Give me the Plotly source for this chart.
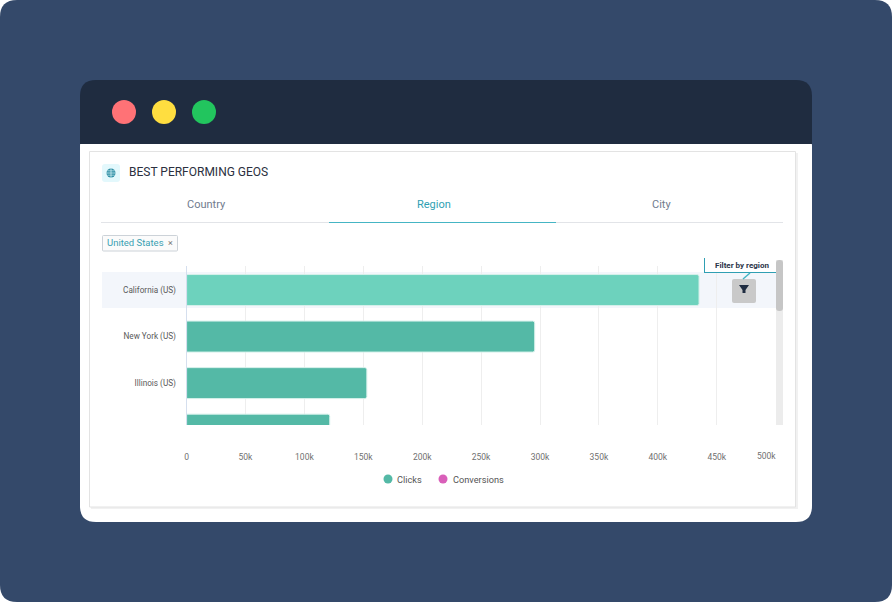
import plotly.graph_objects as go

W, H = 892, 602
regions = ["California (US)", "New York (US)", "Illinois (US)", "Texas (US)"]
clicks = [435000, 295500, 153000, 121500]
bar_colors = ["#6dd2bd", "#54b9a6", "#54b9a6", "#54b9a6"]
tick_values = [0, 50000, 100000, 150000, 200000, 250000, 300000, 350000, 400000, 450000]
tick_labels = ["0", "50k", "100k", "150k", "200k", "250k", "300k", "350k", "400k", "450k"]
tabs = ["Country", "Region", "City"]
series_names = ["Clicks", "Conversions"]
series_colors = ["#54b9a6", "#d95fb9"]

FONT = "Roboto, sans-serif"


def fx(x):
    return x / W


def fy(y):
    return 1 - y / H


def rounded(x0, y0, x1, y1, r=0, tl=True, tr=True, br=True, bl=True):
    a, b = fx(x0), fy(y0)
    c, d = fx(x1), fy(y1)
    rx, ry = r / W, r / H
    p = []
    p.append(f"M{a + (rx if tl else 0)},{b}")
    p.append(f"L{c - (rx if tr else 0)},{b}")
    if tr:
        p.append(f"Q{c},{b} {c},{b - ry}")
    p.append(f"L{c},{d + (ry if br else 0)}")
    if br:
        p.append(f"Q{c},{d} {c - rx},{d}")
    p.append(f"L{a + (rx if bl else 0)},{d}")
    if bl:
        p.append(f"Q{a},{d} {a},{d + ry}")
    p.append(f"L{a},{b - (ry if tl else 0)}")
    if tl:
        p.append(f"Q{a},{b} {a + rx},{b}")
    return " ".join(p) + " Z"


def box(x0, y0, x1, y1, fill, r=0, line=None, layer="below", **corners):
    return dict(type="path", xref="paper", yref="paper", layer=layer,
                path=rounded(x0, y0, x1, y1, r, **corners), fillcolor=fill,
                line=dict(color=line or "rgba(0,0,0,0)", width=1 if line else 0))


def seg(x0, y0, x1, y1, color, width=1, layer="below"):
    return dict(type="line", xref="paper", yref="paper", layer=layer,
                x0=fx(x0), y0=fy(y0), x1=fx(x1), y1=fy(y1),
                line=dict(color=color, width=width))


def dot(cx, cy, r, fill, line=None, layer="below", width=1):
    return dict(type="circle", xref="paper", yref="paper", layer=layer,
                x0=fx(cx - r), x1=fx(cx + r), y0=fy(cy - r), y1=fy(cy + r),
                fillcolor=fill, line=dict(color=line or "rgba(0,0,0,0)", width=width if line else 0))


def label(text, x, y, size, color, anchor="center", family=FONT):
    return dict(text=text, x=fx(x), y=fy(y), xref="paper", yref="paper", showarrow=False,
                xanchor=anchor, yanchor="middle", font=dict(family=family, size=size, color=color))


TEAL = "#2f9fb3"
shapes = [
    box(0, 0, 892, 602, "#34496a", r=17),
    box(80, 130, 812, 522, "#ffffff", r=16),
    box(80, 80, 812, 144, "#1f2c40", r=16, br=False, bl=False),
    dot(124, 112, 12, "#ff7276"),
    dot(164, 112, 12, "#ffde40"),
    dot(204, 112, 12, "#22c55e"),
    box(91, 153, 798, 509, "#f1f1f1"),
    box(89.5, 151.5, 795.5, 507, "#ffffff", line="#e3e3e3"),
    box(102, 164, 120, 182, "#e3f8fc", r=3),
    dot(111, 173, 4.5, "#2f8fa5"),
    seg(106.5, 173, 115.5, 173, "#e3f8fc", 0.7),
    seg(107.4, 170.8, 114.6, 170.8, "#e3f8fc", 0.6),
    seg(107.4, 175.2, 114.6, 175.2, "#e3f8fc", 0.6),
    seg(111, 168.5, 111, 177.5, "#e3f8fc", 0.7),
    seg(101, 222.5, 783, 222.5, "#e2e4e8", 1),
    seg(329, 222.5, 556, 222.5, "#45b5c4", 1),
    box(102.5, 235.5, 177.5, 251, "#fbfbfb", r=1, line="#ccd2d8"),
    box(102, 272, 776, 308, "#f3f6fb"),
    box(776, 260, 783, 425, "#ececec", layer="above"),
    box(776, 260, 783, 311, "#c6c6c6", r=3, layer="above"),
    box(704, 258, 776, 272.5, "#ffffff", layer="above"),
    seg(704.5, 258, 704.5, 273, TEAL, 1, layer="above"),
    seg(704, 272.5, 776, 272.5, TEAL, 1, layer="above"),
    box(732, 279, 756, 303, "#c9c9c9", r=2, layer="above"),
    seg(743, 279, 750, 273, "#45b5c4", 1.5, layer="above"),
    dict(type="path", xref="paper", yref="paper", layer="above", fillcolor="#1f2c41",
         line=dict(width=0, color="rgba(0,0,0,0)"),
         path=f"M{fx(739)},{fy(285)} L{fx(749)},{fy(285)} L{fx(745.5)},{fy(290)} "
              f"L{fx(745.5)},{fy(293)} L{fx(742.5)},{fy(293)} L{fx(742.5)},{fy(290)} Z"),
    dot(388, 479, 4.5, series_colors[0]),
    dot(443, 479, 4.5, series_colors[1]),
]

annotations = [
    label("BEST PERFORMING GEOS", 127, 172, 12, "#2b3040", anchor="left"),
    label(tabs[0], 206.5, 204, 11, "#717b8e"),
    label(tabs[1], 434, 204, 11, "#2f9fb3"),
    label(tabs[2], 661, 204, 11, "#717b8e"),
    label("United States", 105, 243, 9.5, "#3a9fb2", anchor="left"),
    label("×", 170.5, 242.5, 9, "#777777"),
    label("<b>Filter by region</b>", 742, 265, 8, "#2b3448"),
    label(series_names[0], 395, 479.5, 9.2, "#555555", anchor="left"),
    label(series_names[1], 451, 479.5, 9.2, "#555555", anchor="left"),
    dict(text="500k", x=500000, xref="x", y=fy(456), yref="paper", xshift=-9, showarrow=False,
         yanchor="middle", font=dict(family=FONT, size=8.5, color="#707070")),
]

fig = go.Figure()
fig.add_trace(go.Bar(
    y=regions, x=clicks, orientation="h", width=0.665, showlegend=False, hoverinfo="skip",
    name=series_names[0],
    marker=dict(color=bar_colors, cornerradius=2, line=dict(color="#d5f0ea", width=1)),
))

fig.update_layout(
    width=W, height=H, autosize=False, showlegend=False,
    margin=dict(l=0, r=0, t=0, b=0, pad=0, autoexpand=False),
    paper_bgcolor="#ffffff", plot_bgcolor="rgba(0,0,0,0)",
    font=dict(family=FONT),
    shapes=shapes, annotations=annotations,
    xaxis=dict(domain=[fx(186.6), fx(775.6)], range=[0, 500000], tickvals=tick_values, ticktext=tick_labels,
               automargin=False, showgrid=True, gridcolor="#eeeeee", gridwidth=1, zeroline=False,
               showline=False, ticks="", ticklabelstandoff=25,
               tickfont=dict(family=FONT, size=8.5, color="#707070")),
    yaxis=dict(domain=[fy(425), fy(266)], type="category", categoryorder="array", categoryarray=regions,
               range=[2.9, -0.516], automargin=False, showgrid=False, zeroline=False, showline=True,
               linecolor="#d5dfee", linewidth=1, ticks="", ticklabelstandoff=8,
               tickfont=dict(family=FONT, size=8.2, color="#5a5a5a")),
)

fig.write_html("out.html", config=dict(displayModeBar=False),
               post_script="document.body.style.margin='0';document.body.style.overflow='hidden';")
